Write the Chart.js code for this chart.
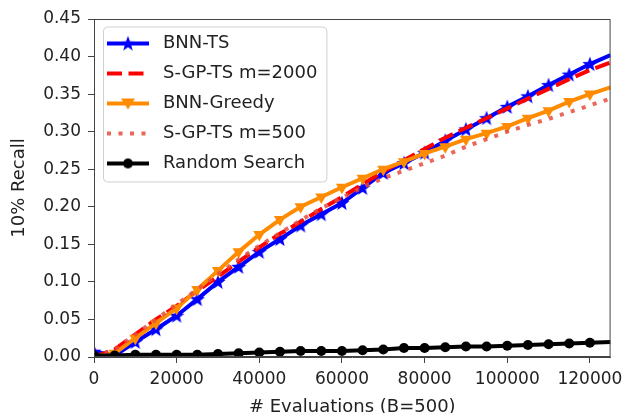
<!DOCTYPE html>
<html>
<head>
<meta charset="utf-8">
<script src="https://cdn.jsdelivr.net/npm/chart.js@4"></script>
<style>
  html, body { margin: 0; padding: 0; background: #fff; }
  #wrap { width: 629px; height: 413px; }
</style>
</head>
<body>
<div id="wrap"><canvas id="chart"></canvas></div>
<script>
// x values: number of evaluations
const evaluations = [0, 5000, 10000, 15000, 20000, 25000, 30000, 35000, 40000, 45000, 50000, 55000, 60000,
  65000, 70000, 75000, 80000, 85000, 90000, 95000, 100000, 105000, 110000, 115000, 120000, 125000];

// 10% recall per method
const bnnTs = [0.007, 0.002, 0.02, 0.037, 0.055, 0.077, 0.1, 0.12, 0.14, 0.157, 0.175, 0.19, 0.205,
  0.225, 0.245, 0.258, 0.272, 0.288, 0.303, 0.318, 0.333, 0.347, 0.362, 0.376, 0.39, 0.402];
const sgpTs2000 = [0.0, 0.01, 0.03, 0.05, 0.068, 0.088, 0.107, 0.127, 0.146, 0.164, 0.18, 0.197, 0.213,
  0.23, 0.247, 0.262, 0.277, 0.292, 0.305, 0.318, 0.331, 0.344, 0.357, 0.37, 0.382, 0.392];
const bnnGreedy = [0.0, 0.005, 0.025, 0.045, 0.065, 0.09, 0.115, 0.14, 0.163, 0.183, 0.2, 0.213, 0.226,
  0.238, 0.25, 0.26, 0.271, 0.28, 0.29, 0.298, 0.307, 0.318, 0.328, 0.34, 0.35, 0.359];
const sgpTs500 = [0.0, 0.01, 0.03, 0.05, 0.07, 0.09, 0.11, 0.13, 0.148, 0.165, 0.182, 0.198, 0.212,
  0.226, 0.238, 0.248, 0.258, 0.268, 0.28, 0.29, 0.3, 0.309, 0.317, 0.326, 0.335, 0.344];
const randomSearch = [0.002, 0.002, 0.003, 0.003, 0.003, 0.003, 0.004, 0.005, 0.006, 0.007, 0.008, 0.008, 0.008,
  0.009, 0.01, 0.012, 0.012, 0.013, 0.014, 0.014, 0.015, 0.016, 0.017, 0.018, 0.019, 0.02];

const seriesNames = ['BNN-TS', 'S-GP-TS m=2000', 'BNN-Greedy', 'S-GP-TS m=500', 'Random Search'];
const xTicks = [0, 20000, 40000, 60000, 80000, 100000, 120000];
const yTicks = [0, 0.05, 0.1, 0.15, 0.2, 0.25, 0.3, 0.35, 0.4, 0.45];

const FONT = 'DejaVu Sans';
const LW = 4;

function starImage(color, size) {
  const c = document.createElement('canvas');
  c.width = size; c.height = size;
  const g = c.getContext('2d');
  const R = size / 2, r = R * 0.42;
  g.beginPath();
  for (let i = 0; i < 10; i++) {
    const rad = i % 2 ? r : R;
    const a = -Math.PI / 2 + i * Math.PI / 5;
    g.lineTo(R + rad * Math.cos(a), R + 0.5 + rad * Math.sin(a));
  }
  g.closePath();
  g.fillStyle = color;
  g.fill();
  return c;
}

const star = starImage('#0000ff', 16);

function toPoints(ys) {
  return evaluations.map((x, i) => ({ x: x, y: ys[i] }));
}

// hide the marker that would sit on the right edge
const markerRadius = r => ctx => (ctx.dataIndex >= evaluations.length - 1 ? 0 : r);

const datasets = [
  { label: seriesNames[0], data: toPoints(bnnTs), borderColor: '#0000ff', backgroundColor: '#0000ff',
    borderWidth: LW, pointStyle: star, pointRadius: markerRadius(7), order: 5 },
  { label: seriesNames[1], data: toPoints(sgpTs2000), borderColor: '#ff0000', backgroundColor: '#ff0000',
    borderWidth: LW, borderDash: [15, 6.5], pointRadius: 0, order: 4 },
  { label: seriesNames[2], data: toPoints(bnnGreedy), borderColor: '#ff8c00', backgroundColor: '#ff8c00',
    borderWidth: LW, pointStyle: 'triangle', rotation: 180, pointRadius: markerRadius(7), pointBorderWidth: 0, order: 3 },
  { label: seriesNames[3], data: toPoints(sgpTs500), borderColor: 'rgba(232,76,61,0.85)', backgroundColor: 'rgba(232,76,61,0.85)',
    borderWidth: LW, borderDash: [4, 7.5], pointRadius: 0, order: 2 },
  { label: seriesNames[4], data: toPoints(randomSearch), borderColor: '#000000', backgroundColor: '#000000',
    borderWidth: LW, pointStyle: 'circle', pointRadius: markerRadius(5), pointBorderWidth: 0, order: 1 }
];
datasets.forEach(d => { d.clip = 0; d.tension = 0; d.pointHoverRadius = 0; });

function legendSymbol(ds, marker) {
  const c = document.createElement('canvas');
  c.width = 48; c.height = 18;
  const g = c.getContext('2d');
  g.strokeStyle = ds.borderColor;
  g.lineWidth = ds.borderWidth;
  g.setLineDash(ds.borderDash || []);
  g.beginPath(); g.moveTo(1, 9); g.lineTo(43, 9); g.stroke();
  g.setLineDash([]);
  g.fillStyle = ds.backgroundColor;
  if (marker === 'star') {
    g.drawImage(star, 22 - star.width / 2, 9 - star.height / 2);
  } else if (marker === 'tri') {
    g.beginPath(); g.moveTo(15, 4); g.lineTo(29, 4); g.lineTo(22, 15); g.closePath(); g.fill();
  } else if (marker === 'circle') {
    g.beginPath(); g.arc(22, 9, 5, 0, Math.PI * 2); g.fill();
  }
  return c;
}
const legendMarkers = ['star', null, 'tri', null, 'circle'];

const framePlugin = {
  id: 'frame',
  beforeDraw(chart) {
    const lg = chart.legend;
    if (!lg || !lg.legendHitBoxes.length) return;
    const hb = lg.legendHitBoxes;
    const left = hb[0].left - 3;
    const top = hb[0].top - 8;
    const right = Math.max(...hb.map(b => b.left + b.width)) + 9;
    const bottom = hb[hb.length - 1].top + hb[hb.length - 1].height + 9;
    const g = chart.ctx;
    g.save();
    g.beginPath();
    g.roundRect(left + 0.5, top + 0.5, right - left, bottom - top, 4);
    g.fillStyle = 'rgba(255,255,255,0.8)';
    g.fill();
    g.strokeStyle = '#d0d0d0';
    g.lineWidth = 1;
    g.stroke();
    g.restore();
  },
  afterDatasetsDraw(chart) {
    const a = chart.chartArea;
    const g = chart.ctx;
    g.save();
    g.strokeStyle = '#444';
    g.lineWidth = 1;
    g.strokeRect(a.left + 0.5, a.top + 0.5, a.right - a.left - 1, a.bottom - a.top - 1);
    g.restore();
  }
};

new Chart(document.getElementById('chart'), {
  type: 'line',
  data: { datasets: datasets },
  plugins: [framePlugin],
  options: {
    responsive: true,
    maintainAspectRatio: false,
    animation: false,
    events: [],
    layout: { padding: { top: 19, right: 16, left: 10, bottom: 0 } },
    scales: {
      x: {
        type: 'linear',
        min: 0,
        max: 125000,
        afterFit: s => { s.height = 56; },
        afterBuildTicks: s => { s.ticks = xTicks.map(v => ({ value: v })); },
        ticks: {
          padding: 6,
          maxRotation: 0,
          autoSkip: false,
          color: '#222',
          font: { family: FONT, size: 17 },
          callback: v => String(v)
        },
        grid: { drawOnChartArea: false, tickLength: 6, color: '#444' },
        border: { color: '#444' },
        title: { display: true, text: '# Evaluations (B=500)', color: '#222',
          font: { family: FONT, size: 18, lineHeight: 1 }, padding: { top: 0, bottom: -3 } }
      },
      y: {
        min: 0,
        max: 0.45,
        afterFit: s => { s.width = 84; },
        afterBuildTicks: s => { s.ticks = yTicks.map(v => ({ value: v })); },
        ticks: {
          padding: 7,
          color: '#222',
          font: { family: FONT, size: 17 },
          callback: v => Number(v).toFixed(2)
        },
        grid: { drawOnChartArea: false, tickLength: 6, color: '#444' },
        border: { color: '#444' },
        title: { display: true, text: '10% Recall', color: '#222',
          font: { family: FONT, size: 18, lineHeight: 1 }, padding: { top: 0, bottom: 0 } }
      }
    },
    plugins: {
      tooltip: { enabled: false },
      legend: {
        position: 'chartArea',
        align: 'start',
        title: { display: true, text: ' ', font: { size: 10, lineHeight: 1 }, padding: { top: 12.5, bottom: 0 } },
        labels: {
          usePointStyle: true,
          pointStyleWidth: 48,
          padding: 12,
          color: '#222',
          font: { family: FONT, size: 18 },
          generateLabels: chart => chart.data.datasets.map((ds, i) => ({
            text: ds.label,
            pointStyle: legendSymbol(ds, legendMarkers[i]),
            fillStyle: ds.backgroundColor,
            strokeStyle: ds.borderColor,
            lineWidth: 0,
            hidden: false,
            datasetIndex: i,
            fontColor: '#222'
          }))
        }
      }
    }
  }
});
</script>
</body>
</html>
